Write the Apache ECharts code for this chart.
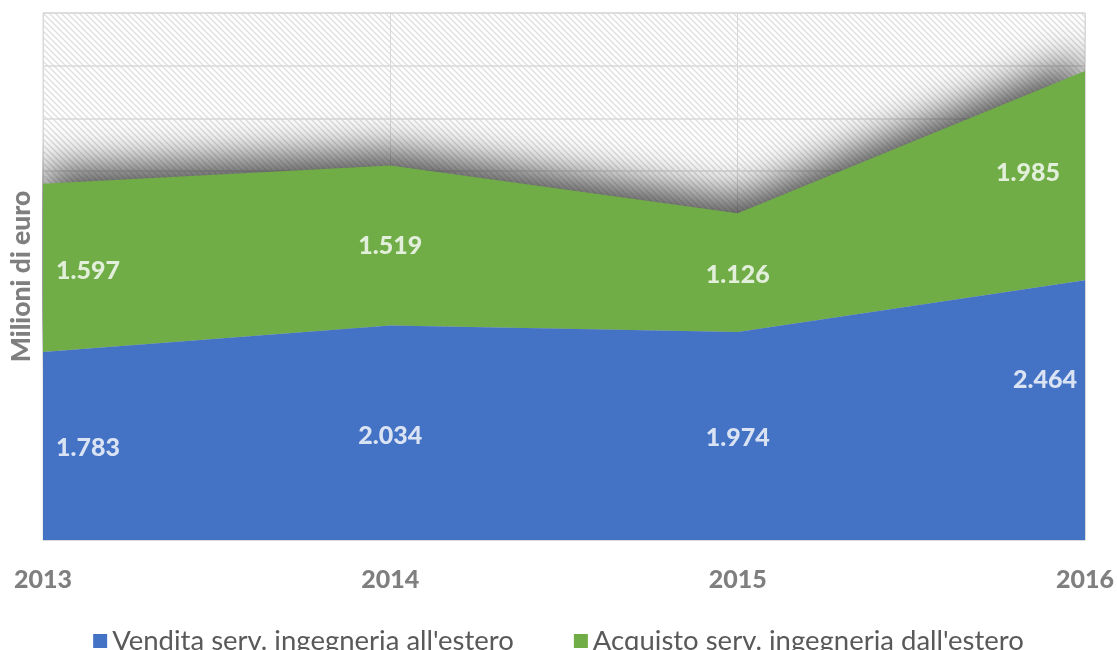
<!DOCTYPE html>
<html><head><meta charset="utf-8">
<script src="https://cdn.jsdelivr.net/npm/echarts@6/dist/echarts.min.js"></script>
<style>html,body{margin:0;padding:0;background:#fff}#c{width:1117px;height:650px}</style>
</head><body><div id="c"></div>
<script>
const categories = ['2013', '2014', '2015', '2016'];
const vendita = [1783, 2034, 1974, 2464];
const acquisto = [1597, 1519, 1126, 1985];
const seriesNames = ["Vendita serv. ingegneria all'estero", "Acquisto serv. ingegneria dall'estero"];
const yMax = 5000, yInterval = 500;

const fmt = v => String(v).replace(/\B(?=(\d{3})+(?!\d))/g, '.');

// hatch pattern
const pc = document.createElement('canvas');
pc.width = 6; pc.height = 6;
const g = pc.getContext('2d');
g.fillStyle = '#ffffff'; g.fillRect(0,0,6,6);
g.strokeStyle = '#dedede'; g.lineWidth = 1.3;
g.beginPath();
g.moveTo(-1,-1); g.lineTo(7,7);
g.moveTo(-1,5); g.lineTo(1,7);
g.moveTo(5,-1); g.lineTo(7,1);
g.stroke();

const labelAlign = ['left', 'center', 'center', 'right'];
const labelOffsetBlue = [[13,2],[0,3],[0,2],[-8,-30]];
const labelOffsetGreen = [[13,3],[0,0],[0,2],[-25,-3]];

function labelPoints(base, vals, offs) {
  return vals.map((v, i) => ({
    value: [categories[i], base[i] + v / 2],
    label: { align: labelAlign[i], offset: offs[i] }
  }));
}
const zeros = vendita.map(() => 0);

const chart = echarts.init(document.getElementById('c'), null, {renderer: 'canvas'});
const labelStyle = { show: true, position: 'inside', color: '#ffffff', fontFamily: 'Lato', fontWeight: 900, fontSize: 25,
  formatter: p => fmt(p.seriesIndex === 2 ? vendita[p.dataIndex] : acquisto[p.dataIndex]) };

chart.setOption({
  animation: false,
  grid: { left: 42, right: 32, top: 13, bottom: 110, show: true, borderColor: '#d9d9d9', borderWidth: 1,
    backgroundColor: { image: pc, repeat: 'repeat' } },
  legend: {
    top: 622, left: 'center', icon: 'rect', itemWidth: 14, itemHeight: 14, itemGap: 60,
    data: seriesNames,
    textStyle: { color: '#595959', fontSize: 27.5, fontFamily: 'Lato' }
  },
  xAxis: {
    type: 'category', data: categories, boundaryGap: false,
    axisLine: { show: true, lineStyle: { color: '#d9d9d9' } },
    axisTick: { show: false },
    axisLabel: { color: '#7f7f7f', fontSize: 25, fontWeight: 900, fontFamily: 'Lato', margin: 27 },
    splitLine: { show: true, lineStyle: { color: '#d9d9d9', width: 1 } }
  },
  yAxis: {
    type: 'value', min: 0, max: yMax, interval: yInterval,
    name: 'Milioni di euro', nameLocation: 'middle', nameGap: 8,
    nameTextStyle: { color: '#7f7f7f', fontSize: 26.5, fontWeight: 900, fontFamily: 'Lato' },
    axisLabel: { show: false }, axisLine: { show: false }, axisTick: { show: false },
    splitLine: { lineStyle: { color: '#d9d9d9', width: 1.5 } }
  },
  series: [
    { name: seriesNames[0], type: 'line', stack: 'total', data: vendita, symbol: 'none', z: 4,
      color: '#4472C4', lineStyle: { width: 0 }, areaStyle: { color: '#4472C4', opacity: 1 } },
    { name: seriesNames[1], type: 'line', stack: 'total', data: acquisto, symbol: 'none', z: 3,
      color: '#70AD47', lineStyle: { width: 0 },
      areaStyle: { color: '#70AD47', opacity: 1, shadowColor: 'rgba(30,30,30,0.8)', shadowBlur: 40, shadowOffsetY: -14 } },
    { type: 'scatter', symbolSize: 0, z: 10, silent: true, data: labelPoints(zeros, vendita, labelOffsetBlue), label: labelStyle },
    { type: 'scatter', symbolSize: 0, z: 10, silent: true, data: labelPoints(vendita, acquisto, labelOffsetGreen), label: labelStyle }
  ]
});
</script></body></html>
